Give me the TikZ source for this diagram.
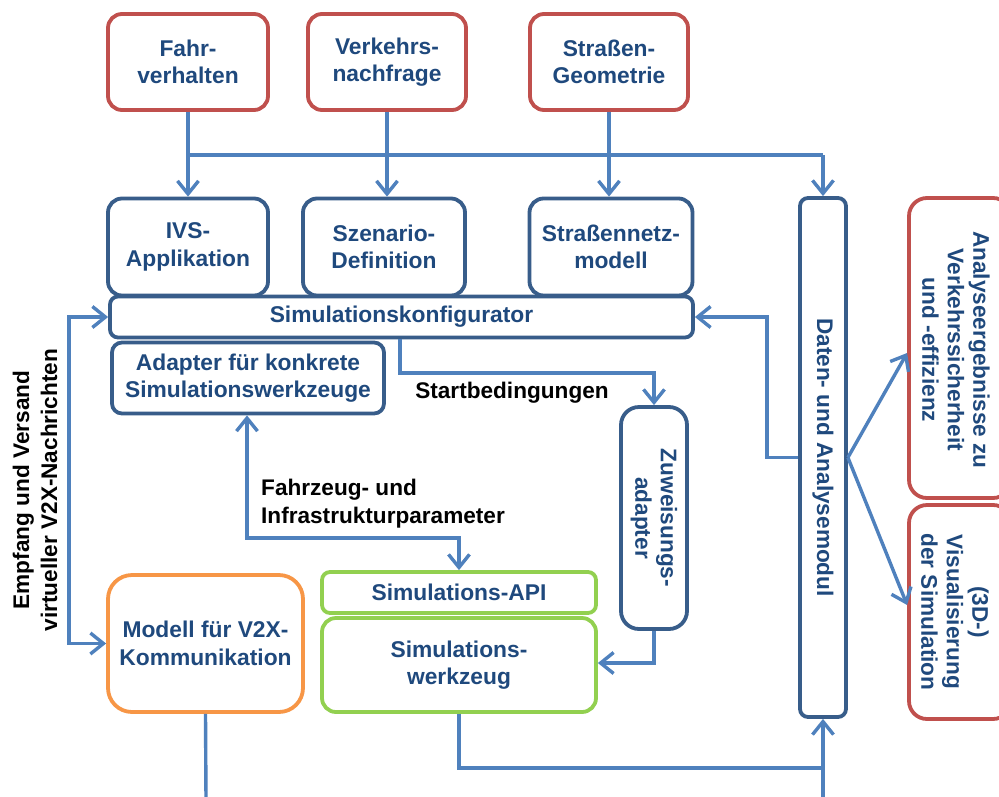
\documentclass[tikz,border=0pt]{standalone}
\usepackage{fontspec}
\setmainfont{Liberation Sans}
\usetikzlibrary{arrows.meta}
\definecolor{rd}{HTML}{C0504D}
\definecolor{db}{HTML}{385D8A}
\definecolor{tb}{HTML}{1F497D}
\definecolor{ab}{HTML}{4F81BD}
\definecolor{og}{HTML}{F79646}
\definecolor{gr}{HTML}{92D050}
\tikzset{
  box/.style={draw, line width=3.8pt, rounded corners=14pt, fill=white, text=tb,
    font=\fontsize{22.8}{27.5}\selectfont\bfseries, align=center, inner sep=0pt},
  redbox/.style={box, draw=rd},
  bluebox/.style={box, draw=db},
  txt/.style={text=tb, font=\fontsize{22.6}{25.5}\selectfont\bfseries, align=center, inner sep=0pt},
  lbl/.style={text=black, font=\fontsize{22.6}{28}\selectfont\bfseries, inner sep=0pt},
  tip/.tip={Straight Barb[length=13pt,width=21pt,line width=3.4pt]},
  line/.style={draw=ab, line width=3.4pt},
  conn/.style={line, -tip},
  biconn/.style={line, tip-tip}
}
\begin{document}
\begin{tikzpicture}[x=1pt,y=-1pt]
\useasboundingbox (0,0) rectangle (999,796);
\clip (0,0) rectangle (999,796);
\fill[white] (0,0) rectangle (999,796);

% top row
\node[redbox, minimum width=160, minimum height=96] (fahr) at (188,62) {Fahr-\\verhalten};
\node[redbox, minimum width=158, minimum height=96] (verk) at (387,62) {Verkehrs-\\nachfrage};
\node[redbox, minimum width=158, minimum height=96] (geo) at (609,62) {Straßen-\\Geometrie};

% middle row
\node[bluebox, minimum width=160, minimum height=97] (ivs) at (188,247) {IVS-\\Applikation};
\node[bluebox, minimum width=162, minimum height=97] (szen) at (384,247) {Szenario-\\Definition};
\node[bluebox, minimum width=163, minimum height=97] (netz) at (611,247) {Straßennetz-\\modell};
\node[bluebox, rounded corners=8pt, minimum width=583, minimum height=41] (konf) at (401.5,317) {Simulationskonfigurator};
\node[bluebox, rounded corners=10pt, minimum width=272, minimum height=71] (adap) at (248,378) {Adapter für konkrete\\Simulationswerkzeuge};

% vertical boxes
\node[bluebox, rounded corners=18pt, minimum width=66, minimum height=222] (zuw) at (654,518) {};
\node[txt, rotate=-90] (zuwT) at (zuw) {Zuweisungs-\\adapter};
\node[bluebox, rounded corners=8pt, minimum width=46, minimum height=519] (daten) at (823,457.5) {};
\node[txt, rotate=-90] (datenT) at (daten) {Daten- und Analysemodul};
\node[redbox, rounded corners=18pt, minimum width=102, minimum height=300] (ana) at (960,348) {};
\node[txt, rotate=-90] (anaT) at (956,350) {Analyseergebnisse zu\\Verkehrssicherheit\\und -effizienz};
\node[redbox, rounded corners=18pt, minimum width=102, minimum height=214] (vis) at (960,612) {};
\node[txt, rotate=-90] (visT) at (955,612) {(3D-)\\Visualisierung\\der Simulation};

% lower boxes
\node[box, draw=og, rounded corners=24pt, minimum width=195, minimum height=137] (modell) at (205.5,643.5) {Modell für V2X-\\Kommunikation};
\node[box, draw=gr, rounded corners=8pt, minimum width=274, minimum height=41] (api) at (459,592.5) {Simulations-API};
\node[box, draw=gr, rounded corners=14pt, minimum width=274, minimum height=94] (werk) at (459,665) {Simulations-\\werkzeug};

% labels
\node[lbl] (sb) at (512,393) {Startbedingungen};
\node[lbl, anchor=west, align=left] (fz) at (261,504) {Fahrzeug- und\\Infrastrukturparameter};
\node[lbl, rotate=90, align=center] (emp) at (35,490) {Empfang und Versand\\virtueller V2X-Nachrichten};

% coordinates
\coordinate (j1) at (188,155);
\coordinate (j2) at (823,155);
\coordinate (lx) at (69,480);
\coordinate (sbc) at (520,373);
\coordinate (fzc) at (350,538);
\coordinate (fbc) at (767,400);
\coordinate (bj) at (823,768);
\coordinate (bot1) at (206,800);
\coordinate (bot2) at (823,800);

% connectors top
\draw[conn] (fahr.south) -- (ivs.north);
\draw[conn] (verk.south) -- (verk.south |- szen.north);
\draw[conn] (geo.south) -- (geo.south |- netz.north);
\draw[line] (j1) -- (j2);
\draw[conn] (j2) -- (daten.north);

% left loop
\draw[biconn] (konf.west) -| (lx) |- (modell.west);

% Startbedingungen
\draw[conn] ([xshift=-1.5pt]konf.south) |- (sbc) -| (zuw.north);

% Fahrzeug- und Infrastrukturparameter
\draw[biconn] ([xshift=-1pt]adap.south) |- (fzc) -| (api.north);

% Zuweisungsadapter -> Simulationswerkzeug
\draw[conn] (zuw.south) |- ([yshift=2pt]werk.east);

% Simulationswerkzeug -> Daten
\draw[line] (werk.south) |- (bj);
\draw[conn] (bot2) -- (daten.south);
\draw[line] (modell.south) -- (bot1);

% feedback
\draw[conn] (daten.west) -| (fbc) |- (konf.east);

% outputs
\draw[conn] (daten.east) -- ([yshift=-5pt]ana.west);
\draw[conn] (daten.east) -- ([yshift=7pt]vis.west);
\end{tikzpicture}
\end{document}
